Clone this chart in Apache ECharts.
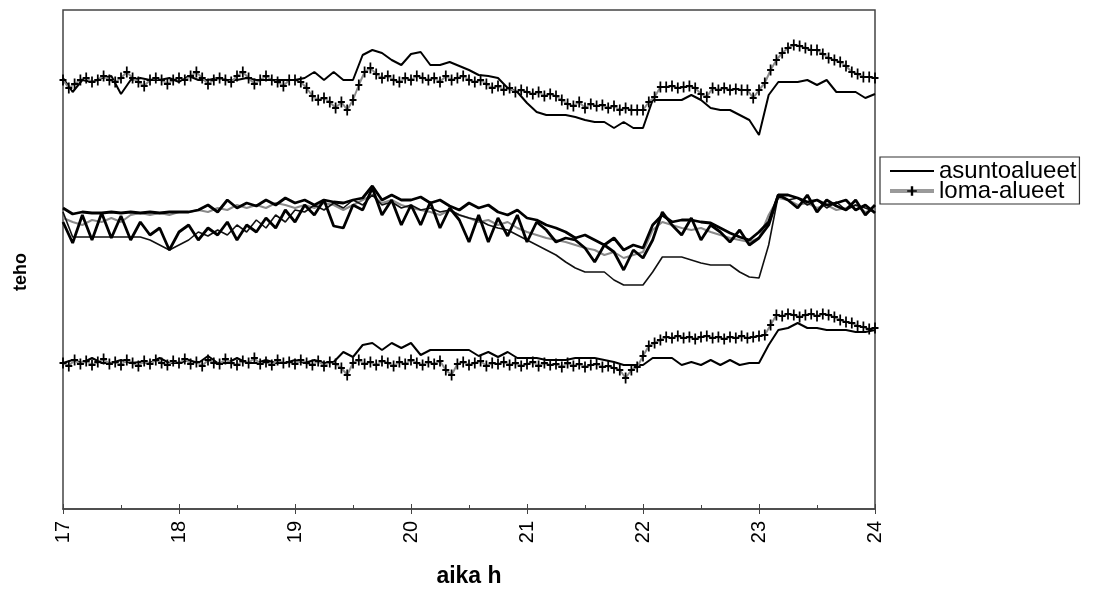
<!DOCTYPE html>
<html>
<head>
<meta charset="utf-8">
<script src="https://cdn.jsdelivr.net/npm/echarts@6/dist/echarts.min.js"></script>
<style>
html,body{margin:0;padding:0;background:#fff;}
#chart{width:1107px;height:594px;}
</style>
</head>
<body>
<div id="chart"></div>
<script>
// time axis (hours)
const hourTicks = [17, 18, 19, 20, 21, 22, 23, 24];
const step5 = 5 / 60;   // 5-minute samples
const step3 = 3 / 60;   // 3-minute samples

// upper pair (relative power units)
const topAsunto = [
  522,508,520,518,522,524,506,520,522,520,520,522,518,
  524,520,520,522,520,520,522,520,520,520,520,520,
  522,528,520,528,520,520,545,550,547,540,535,546,
  548,535,535,538,534,530,525,524,522,512,508,497,
  488,485,485,485,483,480,478,478,472,478,472,472,
  500,500,500,500,505,500,492,490,490,485,480,465,
  505,518,518,518,520,515,520,508,508,508,502,506
];
const topLoma = [
  520,512,516,520,522,518,520,524,520,518,
  522,528,522,518,514,520,522,520,516,520,
  522,520,524,528,522,516,520,522,520,518,
  524,528,522,516,520,524,520,518,514,520,
  520,518,512,504,500,502,498,492,498,490,
  500,515,528,532,526,522,524,520,518,522,
  520,524,522,520,522,518,524,520,522,524,
  520,518,520,516,512,514,510,512,508,510,
  508,506,508,504,506,504,500,496,494,498,
  492,496,494,495,492,494,490,492,490,490,
  490,498,503,513,513,514,512,513,514,512,
  506,503,512,510,512,510,511,510,510,502,
  510,517,530,540,547,552,555,554,552,550,
  550,546,542,540,538,534,528,526,523,523,522
];

// middle bundle
const mid1 = [
  392,386,388,387,387,388,387,388,387,388,387,388,388,
  388,390,395,388,400,392,397,394,400,395,402,397,
  400,395,400,398,397,400,402,414,400,405,400,400,
  403,397,400,394,390,397,392,395,388,385,390,382,
  380,375,372,368,362,365,360,355,362,350,355,352,
  375,385,378,380,380,378,377,372,367,363,360,368,
  378,405,405,402,398,400,395,397,400,390,395,387
];
const mid2 = [
  378,357,385,360,387,362,384,360,378,365,372,350,368,
  375,360,372,365,378,360,375,368,382,372,390,378,
  395,385,400,374,372,395,390,412,385,400,375,395,
  375,398,372,392,380,358,385,358,382,364,385,358,
  378,370,358,362,360,352,338,355,348,330,350,342,
  360,388,375,365,382,360,375,368,358,370,355,362,
  375,405,400,392,405,388,400,394,390,400,385,395
];
const mid3 = [
  388,363,363,363,363,363,363,363,363,360,355,350,355,
  360,368,364,370,365,375,368,380,372,385,378,390,
  388,395,390,397,392,400,395,405,395,398,392,395,
  390,392,388,390,385,382,380,375,372,370,365,360,
  355,350,345,338,332,328,328,328,320,315,315,315,
  328,343,343,343,340,337,335,335,335,328,323,322,
  355,405,400,402,395,400,392,398,390,395,392,388
];
const mid4 = [
  382,378,375,380,378,382,378,385,387,385,387,385,388,
  388,390,388,392,390,395,392,395,392,397,395,392,
  395,392,397,395,390,395,400,405,397,400,395,392,
  390,388,385,390,385,382,378,380,375,378,372,368,
  365,362,360,358,355,352,350,345,348,342,345,348,
  370,378,375,372,370,372,368,365,362,360,358,362,
  385,402,400,395,397,392,395,390,392,395,388,390
];

// lower pair
const botAsunto = [
  237,240,237,242,237,237,240,237,238,237,242,237,237,
  240,237,244,237,237,242,237,237,240,237,237,240,
  237,240,237,238,248,243,255,257,250,257,252,257,
  245,250,250,250,250,250,244,248,243,248,242,242,
  242,240,240,240,242,242,242,240,238,235,235,235,
  242,242,242,235,238,235,240,235,240,235,237,237,
  255,270,272,277,272,272,270,270,270,268,268,270
];
const botLoma = [
  237,234,240,236,239,235,238,241,236,238,
  235,240,237,234,239,236,240,237,235,239,
  237,241,236,238,234,240,237,236,241,237,
  235,239,237,242,236,238,235,240,237,238,
  236,240,237,235,239,234,238,236,232,225,
  237,240,236,238,235,239,237,234,238,236,
  240,237,235,238,236,239,230,225,236,238,
  235,237,239,234,237,236,238,235,237,234,
  236,238,234,237,235,236,233,237,234,236,
  233,235,236,233,234,232,230,222,230,233,
  244,254,257,260,263,262,264,262,263,261,
  263,264,262,263,261,263,262,264,262,263,
  264,265,275,285,284,286,285,283,285,286,
  284,286,285,283,280,278,277,274,273,271,272
];

const legendNames = ['asuntoalueet', 'loma-alueet'];

function pairs(arr, step) {
  return arr.map((v, i) => [hourTicks[0] + i * step, v]);
}

const plus = 'path://M3,0H5V5H8V7H5V12H3V7H0V5H3Z';

function asuntoSeries(arr) {
  return {
    name: legendNames[0], type: 'line', data: pairs(arr, step5),
    showSymbol: false, symbol: 'none',
    lineStyle: { color: '#000', width: 2 }, itemStyle: { color: '#000' }
  };
}
function lomaSeries(arr) {
  return {
    name: legendNames[1], type: 'line', data: pairs(arr, step3),
    symbol: plus, symbolSize: [7, 11], showSymbol: true,
    lineStyle: { color: '#8c8c8c', width: 2 },
    itemStyle: { color: '#000', borderWidth: 0 }
  };
}
function midSeries(name, arr, color, width) {
  return {
    name: name, type: 'line', data: pairs(arr, step5),
    showSymbol: false, symbol: 'none',
    lineStyle: { color: color, width: width }, itemStyle: { color: color }
  };
}

const chart = echarts.init(document.getElementById('chart'), null, { renderer: 'canvas' });
chart.setOption({
  animation: false,
  backgroundColor: '#fff',
  grid: { left: 63, right: 232, top: 10, bottom: 85, show: true, borderColor: '#444', borderWidth: 1.5 },
  legend: {
    data: [
      { name: legendNames[0], icon: 'path://M0,0H44V2H0Z' },
      { name: legendNames[1], lineStyle: { width: 4, color: '#9a9a9a' } }
    ],
    orient: 'vertical', left: 880, top: 157,
    padding: [2, 3, 1, 8], itemGap: -4,
    itemWidth: 44, itemHeight: 12,
    borderColor: '#333', borderWidth: 1.2,
    textStyle: { fontFamily: 'Liberation Sans, Arial, sans-serif', fontSize: 24, color: '#000' },
    selectedMode: false
  },
  graphic: [
    {
      type: 'text', x: 21, y: 272, rotation: Math.PI / 2,
      style: { text: 'teho', fill: '#000', font: 'bold 18px "Liberation Sans", Arial, sans-serif',
        textAlign: 'center', textVerticalAlign: 'middle' }
    }
  ],
  xAxis: [
    {
      type: 'value', min: 17, max: 24, interval: 1,
      axisLine: { show: true, lineStyle: { color: '#444', width: 1.5 } },
      axisTick: { show: true, inside: true, length: 5, lineStyle: { color: '#444' } },
      minorTick: { show: true, splitNumber: 2, length: 4, lineStyle: { color: '#444' } },
      axisLabel: { show: false }, splitLine: { show: false }
    },
    {
      type: 'value', min: 17, max: 24, interval: 1, position: 'bottom',
      axisLine: { show: false },
      axisTick: { show: true, inside: false, length: 5, lineStyle: { color: '#444' } },
      axisLabel: { show: true, rotate: 90, margin: 12, fontSize: 20, color: '#000',
        fontFamily: 'Liberation Sans, Arial, sans-serif' },
      splitLine: { show: false },
      name: 'aika h', nameLocation: 'middle', nameGap: 56,
      nameTextStyle: { fontFamily: 'Liberation Sans, Arial', fontWeight: 'bold', fontSize: 23, color: '#000' }
    }
  ],
  yAxis: {
    type: 'value', min: 91, max: 590,
    axisLine: { show: false }, axisTick: { show: false }, axisLabel: { show: false },
    splitLine: { show: false }
  },
  series: [
    asuntoSeries(topAsunto),
    midSeries('m4', mid4, '#8a8a8a', 2),
    midSeries('m3', mid3, '#111', 1.6),
    midSeries('m1', mid1, '#000', 2.8),
    midSeries('m2', mid2, '#000', 2.8),
    asuntoSeries(botAsunto),
    lomaSeries(topLoma),
    lomaSeries(botLoma)
  ]
});
</script>
</body>
</html>
